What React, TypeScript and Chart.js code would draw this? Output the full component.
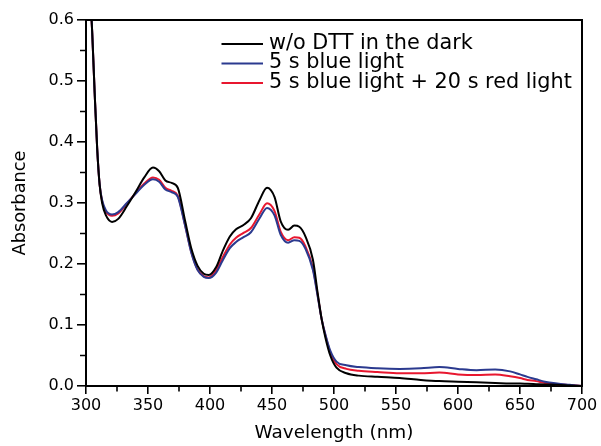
import { useEffect, useRef } from "react";
import { Chart, registerables } from "chart.js";

Chart.register(...registerables);

const wavelengths = [
  300, 303, 305, 307, 309, 311, 313, 316, 321, 326, 333, 340, 347, 354, 359, 364, 369, 374, 380, 385,
  390, 395, 399, 405, 410, 416, 421, 427, 433, 440, 446, 452, 457, 463, 468, 472, 477, 483, 487, 490,
  493, 497, 502, 510, 520, 535, 553, 570, 585, 600, 615, 630, 642, 650, 656, 663, 670, 680, 690, 700,
];

const darkNoDTT = [
  0.78, 0.66, 0.58, 0.48, 0.39, 0.33, 0.3, 0.28, 0.269, 0.274, 0.295, 0.318, 0.342, 0.358, 0.352, 0.337, 0.333, 0.325, 0.27, 0.225,
  0.197, 0.184, 0.182, 0.195, 0.22, 0.245, 0.257, 0.264, 0.275, 0.305, 0.325, 0.31, 0.27, 0.256, 0.263, 0.261, 0.245, 0.207, 0.15, 0.11,
  0.08, 0.05, 0.03, 0.021, 0.017, 0.015, 0.013, 0.01, 0.008, 0.007, 0.006, 0.005, 0.004, 0.004, 0.0035, 0.003, 0.0025, 0.002, 0.001, 0.0,
];

const blueLight5s = [
  0.78, 0.66, 0.58, 0.48, 0.39, 0.33, 0.305, 0.288, 0.281, 0.285, 0.3, 0.315, 0.33, 0.339, 0.335, 0.322, 0.318, 0.31, 0.262, 0.218,
  0.19, 0.179, 0.177, 0.186, 0.205, 0.226, 0.236, 0.244, 0.252, 0.275, 0.292, 0.28, 0.248, 0.235, 0.239, 0.238, 0.225, 0.19, 0.145, 0.11,
  0.085, 0.058, 0.04, 0.034, 0.031, 0.029, 0.028, 0.029, 0.031, 0.028, 0.026, 0.027, 0.024, 0.019, 0.015, 0.011, 0.007, 0.004, 0.002, 0.0,
];

const blueRedLight = [
  0.78, 0.66, 0.58, 0.48, 0.39, 0.33, 0.303, 0.286, 0.279, 0.283, 0.299, 0.316, 0.332, 0.342, 0.338, 0.325, 0.32, 0.312, 0.263, 0.219,
  0.191, 0.18, 0.178, 0.19, 0.21, 0.232, 0.243, 0.251, 0.259, 0.282, 0.2995, 0.287, 0.253, 0.239, 0.244, 0.243, 0.229, 0.193, 0.147, 0.11,
  0.084, 0.055, 0.036, 0.028, 0.025, 0.023, 0.021, 0.021, 0.022, 0.019, 0.018, 0.019, 0.016, 0.013, 0.01, 0.008, 0.005, 0.003, 0.0015, 0.0,
];

const seriesLabels = ["w/o DTT in the dark", "5 s blue light", "5 s blue light + 20 s red light"];
const seriesColors = ["#000000", "#2b3a8f", "#e8172f"];

const xMinorTicks = [325, 375, 425, 475, 525, 575, 625, 675];
const yMinorTicks = [0.05, 0.15, 0.25, 0.35, 0.45, 0.55];

const FONT = "'DejaVu Sans', Verdana, sans-serif";

const decorPlugin = {
  id: "decor",
  afterDraw(chart: any) {
    const { ctx, chartArea: a, scales } = chart;
    ctx.save();
    ctx.strokeStyle = "#000";
    ctx.lineWidth = 2;
    ctx.beginPath();
    ctx.moveTo(a.left - 1, a.top);
    ctx.lineTo(a.right, a.top);
    ctx.lineTo(a.right, a.bottom + 1);
    ctx.stroke();

    ctx.lineWidth = 1.6;
    ctx.beginPath();
    for (const v of xMinorTicks) {
      const px = scales.x.getPixelForValue(v);
      ctx.moveTo(px, a.bottom);
      ctx.lineTo(px, a.bottom + 5.5);
    }
    for (const v of yMinorTicks) {
      const py = scales.y.getPixelForValue(v);
      ctx.moveTo(a.left, py);
      ctx.lineTo(a.left - 6, py);
    }
    ctx.stroke();

    // legend
    const lx0 = 221.5;
    const lx1 = 263;
    const tx = 269;
    const rows = [44, 63.5, 83];
    ctx.font = `20.8px ${FONT}`;
    ctx.textBaseline = "alphabetic";
    ctx.textAlign = "left";
    chart.data.datasets.forEach((ds: any, i: number) => {
      const y = rows[i];
      ctx.strokeStyle = ds.borderColor;
      ctx.lineWidth = 2;
      ctx.beginPath();
      ctx.moveTo(lx0, y);
      ctx.lineTo(lx1, y);
      ctx.stroke();
      ctx.fillStyle = "#000";
      ctx.fillText(ds.label, tx, y + 4.7);
    });
    ctx.restore();
  },
};

export default function App() {
  const canvasRef = useRef<HTMLCanvasElement | null>(null);

  useEffect(() => {
    document.body.style.margin = "0";
    const canvas = canvasRef.current;
    if (!canvas) return;
    const seriesValues = [darkNoDTT, blueLight5s, blueRedLight];
    const chart = new Chart(canvas, {
      type: "line",
      data: {
        datasets: seriesValues.map((vals, i) => ({
          label: seriesLabels[i],
          data: wavelengths.map((w, j) => ({ x: w, y: vals[j] })),
          borderColor: seriesColors[i],
          backgroundColor: seriesColors[i],
          borderWidth: 2,
          pointRadius: 0,
          cubicInterpolationMode: "monotone" as const,
          fill: false,
        })),
      },
      options: {
        responsive: false,
        animation: false,
        devicePixelRatio: 1,
        layout: { padding: { top: 20, right: 19, left: 0, bottom: 0 } },
        plugins: {
          legend: { display: false },
          tooltip: { enabled: false },
        },
        scales: {
          x: {
            type: "linear",
            min: 300,
            max: 700,
            afterFit: (s: any) => {
              s.height = 60;
            },
            ticks: {
              stepSize: 50,
              color: "#000",
              padding: 2,
              maxRotation: 0,
              font: { family: FONT, size: 16 },
            },
            grid: {
              drawOnChartArea: false,
              drawTicks: true,
              tickLength: 8,
              color: "#000",
              lineWidth: 1.6,
            },
            border: { display: true, color: "#000", width: 2 },
            title: {
              display: true,
              text: "Wavelength (nm)",
              color: "#000",
              font: { family: FONT, size: 18.4 },
              padding: { top: 0, bottom: 2 },
            },
          },
          y: {
            min: 0,
            max: 0.6,
            afterFit: (s: any) => {
              s.width = 86;
            },
            ticks: {
              stepSize: 0.1,
              color: "#000",
              padding: 3,
              font: { family: FONT, size: 16 },
              callback: (v: any) => Number(v).toFixed(1),
            },
            grid: {
              drawOnChartArea: false,
              drawTicks: true,
              tickLength: 9,
              color: "#000",
              lineWidth: 1.6,
            },
            border: { display: true, color: "#000", width: 2 },
            title: {
              display: true,
              text: "Absorbance",
              color: "#000",
              font: { family: FONT, size: 17.8 },
              padding: { top: 10, bottom: 0 },
            },
          },
        },
      },
      plugins: [decorPlugin],
    });
    return () => chart.destroy();
  }, []);

  return <canvas ref={canvasRef} width={601} height={446} />;
}
